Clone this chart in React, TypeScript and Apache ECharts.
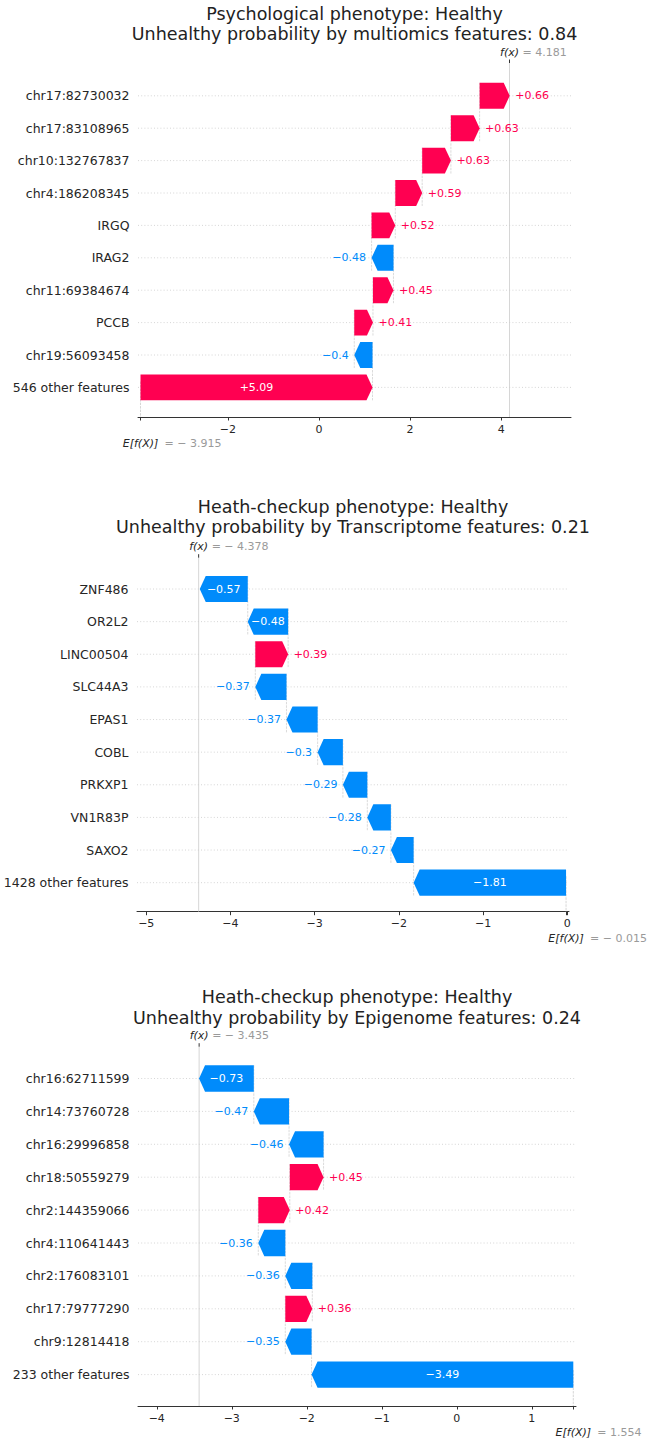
import { useEffect, useRef } from "react";
import * as echarts from "echarts";

const FONT = "'DejaVu Sans', 'Liberation Sans', sans-serif";
const RED = "#ff0051";
const BLUE = "#008bfb";
const TEXT_DARK = "#262626";
const TEXT_GREY = "#9a9a9a";
const GUIDE = "#cccccc";

// ---- Panel 1: psychological phenotype, multiomics model ----
const psychTitle = ["Psychological phenotype: Healthy", "Unhealthy probability by multiomics features: 0.84"];
const psychFeatures = [
  "chr17:82730032",
  "chr17:83108965",
  "chr10:132767837",
  "chr4:186208345",
  "IRGQ",
  "IRAG2",
  "chr11:69384674",
  "PCCB",
  "chr19:56093458",
  "546 other features",
];
const psychShap = [0.66, 0.63, 0.63, 0.59, 0.52, -0.48, 0.45, 0.41, -0.4, 5.09];
const psychBase = -3.915;
const psychFx = 4.181;
const psychTicks = [-2, 0, 2, 4];

// ---- Panel 2: health-checkup phenotype, transcriptome model ----
const transTitle = ["Heath-checkup phenotype: Healthy", "Unhealthy probability by Transcriptome features: 0.21"];
const transFeatures = [
  "ZNF486",
  "OR2L2",
  "LINC00504",
  "SLC44A3",
  "EPAS1",
  "COBL",
  "PRKXP1",
  "VN1R83P",
  "SAXO2",
  "1428 other features",
];
const transShap = [-0.57, -0.48, 0.39, -0.37, -0.37, -0.3, -0.29, -0.28, -0.27, -1.81];
const transBase = -0.015;
const transFx = -4.378;
const transTicks = [-5, -4, -3, -2, -1, 0];

// ---- Panel 3: health-checkup phenotype, epigenome model ----
const epiTitle = ["Heath-checkup phenotype: Healthy", "Unhealthy probability by Epigenome features: 0.24"];
const epiFeatures = [
  "chr16:62711599",
  "chr14:73760728",
  "chr16:29996858",
  "chr18:50559279",
  "chr2:144359066",
  "chr4:110641443",
  "chr2:176083101",
  "chr17:79777290",
  "chr9:12814418",
  "233 other features",
];
const epiShap = [-0.73, -0.47, -0.46, 0.45, 0.42, -0.36, -0.36, 0.36, -0.35, -3.49];
const epiBase = 1.554;
const epiFx = -3.435;
const epiTicks = [-4, -3, -2, -1, 0, 1];

type Layout = {
  titleX: number;
  titleY: [number, number];
  fxLabelY: number;
  lineTop: number;
  rowTop: number;
  band: number;
  axisY: number;
  left: number;
  right: number;
  xMin: number;
  xMax: number;
};

type Panel = {
  title: string[];
  features: string[];
  shap: number[];
  base: number;
  fx: number;
  ticks: number[];
  layout: Layout;
};

const panels: Panel[] = [
  {
    title: psychTitle,
    features: psychFeatures,
    shap: psychShap,
    base: psychBase,
    fx: psychFx,
    ticks: psychTicks,
    layout: {
      titleX: 354.5,
      titleY: [14, 34],
      fxLabelY: 52,
      lineTop: 63,
      rowTop: 95.8,
      band: 32.4,
      axisY: 417,
      left: 138,
      right: 84,
      xMin: -3.97,
      xMax: 5.53,
    },
  },
  {
    title: transTitle,
    features: transFeatures,
    shap: transShap,
    base: transBase,
    fx: transFx,
    ticks: transTicks,
    layout: {
      titleX: 353,
      titleY: [507, 527],
      fxLabelY: 546,
      lineTop: 557.7,
      rowTop: 589,
      band: 32.63,
      axisY: 911.7,
      left: 137,
      right: 86,
      xMin: -5.11,
      xMax: 0.02,
    },
  },
  {
    title: epiTitle,
    features: epiFeatures,
    shap: epiShap,
    base: epiBase,
    fx: epiFx,
    ticks: epiTicks,
    layout: {
      titleX: 357,
      titleY: [997, 1018],
      fxLabelY: 1035,
      lineTop: 1046.7,
      rowTop: 1078.5,
      band: 32.9,
      axisY: 1406,
      left: 138,
      right: 79,
      xMin: -4.25,
      xMax: 1.59,
    },
  },
];

const MINUS = "\u2212";

function fmtShap(v: number): string {
  const s = Math.abs(v).toFixed(2).replace(/0+$/, "").replace(/\.$/, "");
  return (v < 0 ? MINUS : "+") + s;
}

function fmtTick(v: number): string {
  return v < 0 ? MINUS + Math.abs(v) : String(v);
}

function fmtExpl(v: number): string {
  return v < 0 ? `= ${MINUS} ${Math.abs(v).toFixed(3)}` : `= ${v.toFixed(3)}`;
}

// Approximate DejaVu Sans advance widths for the value labels
function textWidth(s: string, size: number): number {
  let w = 0;
  for (const ch of s) {
    if (ch === ".") w += 0.318;
    else if (ch === "+" || ch === MINUS) w += 0.838;
    else w += 0.636;
  }
  return w * size;
}

// Waterfall: accumulate from the base value, bottom row first
function waterfall(shap: number[], base: number) {
  const rows: number[][] = [];
  let cum = base;
  for (let i = shap.length - 1; i >= 0; i--) {
    const start = cum;
    const end = cum + shap[i];
    rows[i] = [start, end, i, shap[i]];
    cum = end;
  }
  return rows;
}

function renderBar(_params: any, api: any) {
  const start = api.value(0);
  const end = api.value(1);
  const row = api.value(2);
  const v = api.value(3);
  const [xs, yc] = api.coord([start, row]);
  const xe = api.coord([end, row])[0];
  const half = api.size([0, 1])[1] * 0.4;
  const len = Math.abs(xe - xs);
  const dir = xe >= xs ? 1 : -1;
  const hl = Math.min(6, len);
  const color = v >= 0 ? RED : BLUE;
  const points = [
    [xs, yc - half],
    [xe - dir * hl, yc - half],
    [xe, yc],
    [xe - dir * hl, yc + half],
    [xs, yc + half],
  ];
  const label = fmtShap(v);
  const inside = textWidth(label, 11) + 4 < len;
  const tx = inside ? (xs + xe) / 2 : xe + dir * 5.5;
  const align = inside ? "center" : dir > 0 ? "left" : "right";
  return {
    type: "group",
    children: [
      { type: "polygon", shape: { points }, style: { fill: color } },
      {
        type: "text",
        x: tx,
        y: yc,
        style: {
          text: label,
          fill: inside ? "#ffffff" : color,
          fontSize: 11,
          fontFamily: FONT,
          align,
          textAlign: align,
          verticalAlign: "middle",
          textVerticalAlign: "middle",
        },
      },
    ],
  };
}

function renderRowGuide(params: any, api: any) {
  const cs = params.coordSys;
  const yc = api.coord([0, api.value(0)])[1];
  return {
    type: "line",
    shape: { x1: cs.x, y1: yc, x2: cs.x + cs.width, y2: yc },
    style: { stroke: GUIDE, lineWidth: 0.8, lineDash: [1, 2.2] },
  };
}

function renderConnector(_params: any, api: any) {
  const x = api.value(0);
  const row = api.value(1);
  const band = api.size([0, 1])[1];
  const [px, y0] = api.coord([x, row]);
  const y1 = api.coord([x, row + 1])[1];
  return {
    type: "line",
    shape: { x1: px, y1: y0 - band * 0.4, x2: px, y2: y1 + band * 0.4 },
    style: { stroke: GUIDE, lineWidth: 0.7, lineDash: [2.5, 1] },
  };
}

function makeAnnotationRenderer(p: Panel) {
  const L = p.layout;
  return (_params: any, api: any) => {
    const xf = api.coord([api.value(0), 0])[0];
    const xb = api.coord([api.value(1), 0])[0];
    const eTop = L.axisY - (L.axisY - L.lineTop) / p.features.length;
    const txt = (x: number, y: number, text: string, fill: string, align: string, italic: boolean) => ({
      type: "text",
      x,
      y,
      style: {
        text,
        fill,
        fontSize: 11,
        fontFamily: FONT,
        fontStyle: italic ? "italic" : "normal",
        align,
        textAlign: align,
        verticalAlign: "middle",
        textVerticalAlign: "middle",
      },
    });
    return {
      type: "group",
      children: [
        {
          type: "line",
          shape: { x1: xf, y1: L.lineTop, x2: xf, y2: L.axisY },
          style: { stroke: GUIDE, lineWidth: 0.8 },
        },
        {
          type: "line",
          shape: { x1: xf, y1: L.lineTop - 3.5, x2: xf, y2: L.lineTop },
          style: { stroke: "#333333", lineWidth: 1 },
        },
        {
          type: "line",
          shape: { x1: xb, y1: eTop, x2: xb, y2: L.axisY },
          style: { stroke: GUIDE, lineWidth: 0.8, lineDash: [2.5, 1] },
        },
        txt(xf, L.fxLabelY, "f(x)", TEXT_DARK, "center", true),
        txt(xf + 13, L.fxLabelY, fmtExpl(api.value(0)), TEXT_GREY, "left", false),
        txt(xb, L.axisY + 26.5, "E[f(X)]", TEXT_DARK, "center", true),
        txt(xb + 24, L.axisY + 26.5, fmtExpl(api.value(1)), TEXT_GREY, "left", false),
      ],
    };
  };
}

function buildOption() {
  const grid: any[] = [];
  const xAxis: any[] = [];
  const yAxis: any[] = [];
  const series: any[] = [];
  const graphic: any[] = [];

  panels.forEach((p, k) => {
    const L = p.layout;
    const top = L.rowTop - L.band / 2;
    const height = L.band * p.features.length;
    grid.push({ left: L.left, right: L.right, top, height, containLabel: false });

    const tickValues = p.ticks.filter((t) => t >= L.xMin && t <= L.xMax).concat([p.base]);
    xAxis.push({
      type: "value",
      gridIndex: k,
      min: L.xMin,
      max: L.xMax,
      offset: L.axisY - (top + height),
      splitLine: { show: false },
      axisLine: { show: true, lineStyle: { color: "#333333", width: 1 } },
      axisTick: {
        show: true,
        length: 3.5,
        inside: false,
        customValues: tickValues,
        lineStyle: { color: "#333333", width: 1 },
      },
      axisLabel: {
        show: true,
        customValues: p.ticks,
        formatter: (v: number) => fmtTick(v),
        color: TEXT_DARK,
        fontSize: 11,
        fontFamily: FONT,
        margin: 6.5,
      },
    });
    yAxis.push({
      type: "category",
      gridIndex: k,
      data: p.features,
      inverse: true,
      axisLine: { show: false },
      axisTick: { show: false },
      splitLine: { show: false },
      axisLabel: {
        color: TEXT_DARK,
        fontSize: 12.5,
        fontFamily: FONT,
        margin: 8.5,
        interval: 0,
      },
    });

    const rows = waterfall(p.shap, p.base);

    series.push({
      type: "custom",
      xAxisIndex: k,
      yAxisIndex: k,
      z: 1,
      silent: true,
      renderItem: renderRowGuide,
      data: p.features.map((_, i) => [i]),
      encode: { y: 0 },
    });
    series.push({
      type: "custom",
      xAxisIndex: k,
      yAxisIndex: k,
      z: 1,
      silent: true,
      renderItem: renderConnector,
      data: rows.slice(0, rows.length - 1).map((r) => [r[0], r[2]]),
      encode: { x: 0, y: 1 },
    });
    series.push({
      type: "custom",
      xAxisIndex: k,
      yAxisIndex: k,
      z: 1,
      silent: true,
      clip: false,
      renderItem: makeAnnotationRenderer(p),
      data: [[p.fx, p.base]],
      encode: { x: [0, 1] },
    });
    series.push({
      type: "custom",
      xAxisIndex: k,
      yAxisIndex: k,
      z: 3,
      silent: true,
      renderItem: renderBar,
      data: rows,
      encode: { x: [0, 1], y: 2 },
    });

    p.title.forEach((line, j) => {
      graphic.push({
        type: "text",
        x: L.titleX,
        y: L.titleY[j],
        style: {
          text: line,
          fill: "#222222",
          fontSize: 17.5,
          fontFamily: FONT,
          align: "center",
          textAlign: "center",
          verticalAlign: "middle",
          textVerticalAlign: "middle",
        },
      });
    });
  });

  return {
    animation: false,
    backgroundColor: "#ffffff",
    grid,
    xAxis,
    yAxis,
    series,
    graphic,
  };
}

export default function App() {
  const ref = useRef<HTMLDivElement>(null);
  useEffect(() => {
    if (!ref.current) return;
    const chart = echarts.init(ref.current, undefined, { renderer: "svg" });
    chart.setOption(buildOption() as any);
    return () => chart.dispose();
  }, []);
  return (
    <div
      ref={ref}
      style={{ position: "absolute", left: 0, top: 0, width: 655, height: 1441, background: "#fff" }}
    />
  );
}
